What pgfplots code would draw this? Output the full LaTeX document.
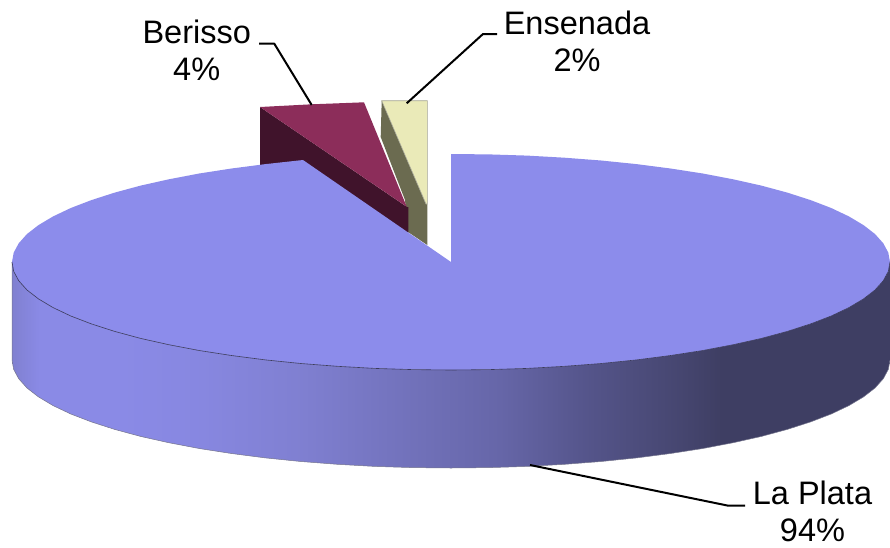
\documentclass[border=0pt]{standalone}
\usepackage{fontspec}
\setmainfont{Liberation Sans}
\usepackage{pgfplots}
\pgfplotsset{compat=1.18}

\definecolor{top}{HTML}{8C8CEB}
\definecolor{edge}{HTML}{3A3A5C}
\definecolor{bermain}{HTML}{8C2D5A}
\definecolor{berside}{HTML}{40132B}
\definecolor{ensmain}{HTML}{EAEAB8}
\definecolor{ensside}{HTML}{6B6B50}

% path bbox runs from 25bp to 75bp of the shading
\pgfdeclarehorizontalshading{wall}{100bp}{
  rgb(0bp)=(.502,.502,.816);
  rgb(25bp)=(.502,.502,.816);
  rgb(26.6bp)=(.541,.541,.902);
  rgb(31.2bp)=(.541,.541,.902);
  rgb(35.7bp)=(.53,.53,.88);
  rgb(41.4bp)=(.50,.50,.82);
  rgb(47.1bp)=(.45,.45,.74);
  rgb(52.8bp)=(.40,.40,.659);
  rgb(57.9bp)=(.33,.33,.54);
  rgb(63bp)=(.275,.275,.44);
  rgb(65.3bp)=(.245,.245,.39);
  rgb(100bp)=(.239,.239,.38)}

\pgfplotsset{lead/.style={black, line width=2pt, line join=round}}
\tikzset{lab/.style={align=center, inner sep=0pt, font=\fontsize{32.5}{37}\selectfont}}

\begin{document}
\begin{tikzpicture}
\useasboundingbox (0,0) rectangle (890pt,547pt);
\begin{axis}[
    width=890pt, height=547pt, scale only axis,
    xmin=0, xmax=890, ymin=0, ymax=547,
    y dir=reverse, hide axis,
    every axis plot/.append style={no markers},
]

% Ensenada slice
\addplot[fill=ensside, draw=none] coordinates {
  (381.7,100.7) (426,204) (427.3,204) (427.3,245) (408,232) (405,200) (380.7,137)} --cycle;
\addplot[fill=ensmain, draw=ensside!60, line width=0.6pt] coordinates {
  (381.7,100.7) (427.3,100.7) (427.3,204) (426,204)} --cycle;

% Berisso slice
\addplot[fill=berside, draw=none] coordinates {
  (260,107) (407,207) (408.3,207) (408.3,240) (300,170) (260,170)} --cycle;
\addplot[fill=bermain, draw=none] coordinates {
  (260,107) (311.7,104.3) (364,102.3) (406.7,206.7)} --cycle;

% La Plata: side wall
\addplot[shading=wall, draw=none] coordinates {
  (12,262) (13.7,271.4) (18.7,280.7) (27,290) (38.5,298.9) (53.1,307.6) (70.8,316) (91.4,323.9)
  (114.7,331.4) (140.6,338.4) (168.8,344.7) (199.2,350.5) (231.5,355.5) (265.5,359.9)
  (300.9,363.5) (337.4,366.3) (374.8,368.4) (412.7,369.6) (451,370)
  (489.3,369.6) (527.2,368.4) (564.6,366.3) (601.1,363.5) (636.5,359.9) (670.5,355.5)
  (702.8,350.5) (733.2,344.7) (761.4,338.4) (787.3,331.4) (810.6,323.9) (831.2,316)
  (848.9,307.6) (863.5,298.9) (875,290) (883.3,280.7) (888.3,271.4) (890,262)
  (890,360) (888.3,369.4) (883.3,378.7) (875,388) (863.5,396.9) (848.9,405.6) (831.2,414)
  (810.6,421.9) (787.3,429.4) (761.4,436.4) (733.2,442.7) (702.8,448.5) (670.5,453.5)
  (636.5,457.9) (601.1,461.5) (564.6,464.3) (527.2,466.4) (489.3,467.6) (451,468)
  (412.7,467.6) (374.8,466.4) (337.4,464.3) (300.9,461.5) (265.5,457.9) (231.5,453.5)
  (199.2,448.5) (168.8,442.7) (140.6,436.4) (114.7,429.4) (91.4,421.9) (70.8,414)
  (53.1,405.6) (38.5,396.9) (27,388) (18.7,378.7) (13.7,369.4) (12,360)} --cycle;

% wall bottom outline
\addplot[draw=edge!70, line width=0.5pt] coordinates {
  (12,262) (12,360) (13.7,369.4) (18.7,378.7) (27,388) (38.5,396.9) (53.1,405.6) (70.8,414)
  (91.4,421.9) (114.7,429.4) (140.6,436.4) (168.8,442.7) (199.2,448.5) (231.5,453.5)
  (265.5,457.9) (300.9,461.5) (337.4,464.3) (374.8,466.4) (412.7,467.6) (451,468)
  (489.3,467.6) (527.2,466.4) (564.6,464.3) (601.1,461.5) (636.5,457.9) (670.5,453.5)
  (702.8,448.5) (733.2,442.7) (761.4,436.4) (787.3,429.4) (810.6,421.9) (831.2,414)
  (848.9,405.6) (863.5,396.9) (875,388) (883.3,378.7) (888.3,369.4) (890,360)};

% La Plata: top face
\addplot[fill=top, draw=none] coordinates {
  (451,262) (451,154) (489.3,154.4) (527.2,155.6) (564.6,157.7) (601.1,160.5) (636.5,164.1)
  (670.5,168.5) (702.8,173.5) (733.2,179.3) (761.4,185.6) (787.3,192.6) (810.6,200.1)
  (831.2,208) (848.9,216.4) (863.5,225.1) (875,234) (883.3,243.3) (888.3,252.6) (890,262)
  (888.3,271.4) (883.3,280.7) (875,290) (863.5,298.9) (848.9,307.6) (831.2,316) (810.6,323.9)
  (787.3,331.4) (761.4,338.4) (733.2,344.7) (702.8,350.5) (670.5,355.5) (636.5,359.9)
  (601.1,363.5) (564.6,366.3) (527.2,368.4) (489.3,369.6) (451,370)
  (412.7,369.6) (374.8,368.4) (337.4,366.3) (300.9,363.5) (265.5,359.9) (231.5,355.5)
  (199.2,350.5) (168.8,344.7) (140.6,338.4) (114.7,331.4) (91.4,323.9) (70.8,316)
  (53.1,307.6) (38.5,298.9) (27,290) (18.7,280.7) (13.7,271.4) (12,262)
  (13.7,252.6) (18.7,243.3) (27,234) (38.5,225.1) (53.1,216.4) (70.8,208) (91.4,200.1)
  (114.7,192.6) (140.6,185.6) (168.8,179.3) (199.2,173.5) (231.5,168.5) (265.5,164.1) (303,160)} --cycle;

% front rim of the top face
\addplot[draw=edge, line width=0.6pt] coordinates {
  (12,262) (13.7,271.4) (18.7,280.7) (27,290) (38.5,298.9) (53.1,307.6) (70.8,316) (91.4,323.9)
  (114.7,331.4) (140.6,338.4) (168.8,344.7) (199.2,350.5) (231.5,355.5) (265.5,359.9)
  (300.9,363.5) (337.4,366.3) (374.8,368.4) (412.7,369.6) (451,370)
  (489.3,369.6) (527.2,368.4) (564.6,366.3) (601.1,363.5) (636.5,359.9) (670.5,355.5)
  (702.8,350.5) (733.2,344.7) (761.4,338.4) (787.3,331.4) (810.6,323.9) (831.2,316)
  (848.9,307.6) (863.5,298.9) (875,290) (883.3,280.7) (888.3,271.4) (890,262)};

% leader lines
\addplot[lead] coordinates {(259,43.7) (274.3,43.7) (311.7,105)};
\addplot[lead] coordinates {(497,34) (483,34) (406.7,103.3)};
\addplot[lead] coordinates {(530,465) (728.3,505.7) (745,505.7)};

\node[lab] at (axis cs:196.7,50) {Berisso\\4\%};
\node[lab] at (axis cs:577,41.5) {Ensenada\\2\%};
\node[lab] at (axis cs:812.5,511.5) {La Plata\\94\%};
\end{axis}
\end{tikzpicture}
\end{document}
